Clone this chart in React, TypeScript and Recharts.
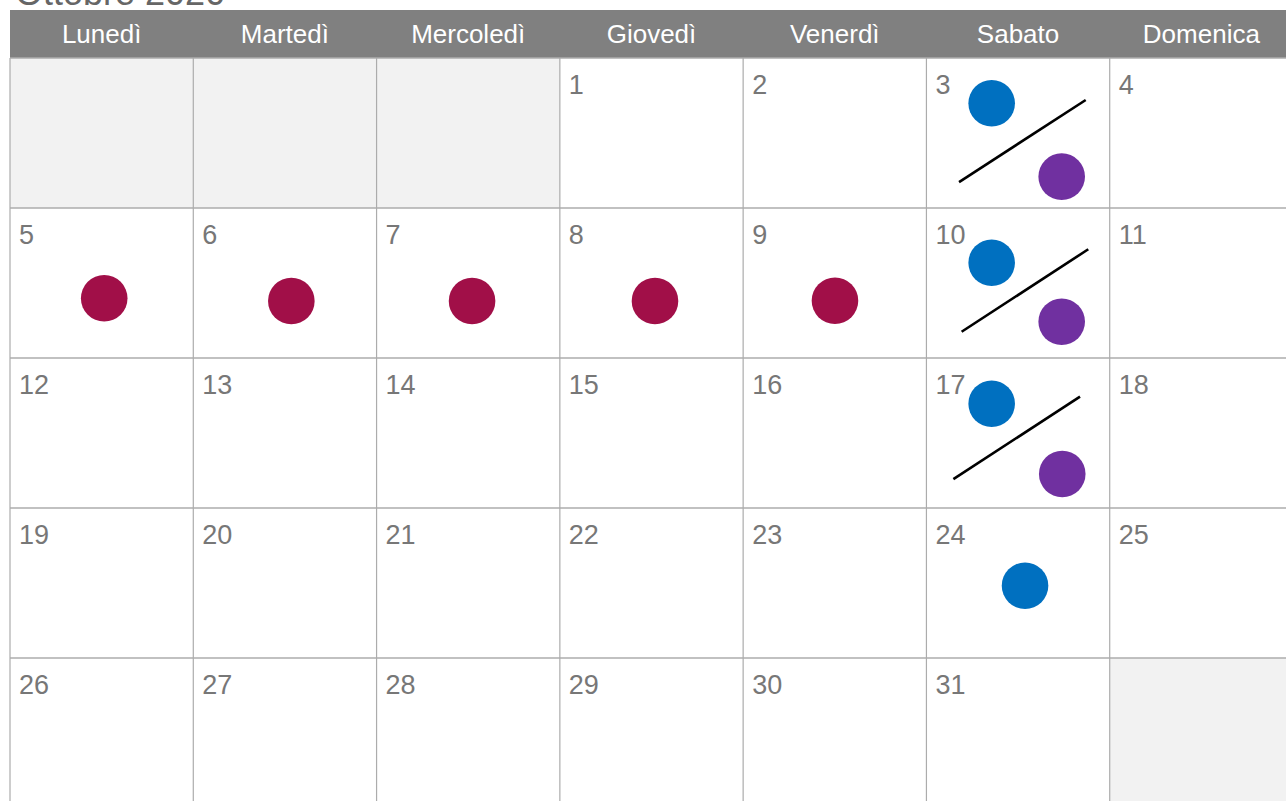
import React from 'react';
import {
  ScatterChart, Scatter, XAxis, YAxis,
  ReferenceArea, ReferenceLine,
} from 'recharts';

// Ottobre 2020 — calendario con eventi
const title = 'Ottobre 2020';
const weekdays = ['Lunedì', 'Martedì', 'Mercoledì', 'Giovedì', 'Venerdì', 'Sabato', 'Domenica'];
const firstWeekday = 3; // giovedì
const daysInMonth = 31;
const rows = [0, 1, 2, 3, 4, 5];
const cols = [0, 1, 2, 3, 4, 5, 6, 7];

// celle vuote (fuori mese)
const emptyCells = [
  { x1: 0, x2: 3, y1: 0, y2: 1 },
  { x1: 6, x2: 7, y1: 4, y2: 5 },
];

// eventi: colonna + frazione, riga + frazione
const redDots = [
  { x: 0.514, y: 1.602 },
  { x: 1.535, y: 1.62 },
  { x: 2.521, y: 1.62 },
  { x: 3.519, y: 1.62 },
  { x: 4.501, y: 1.618 },
];
const blueDots = [
  { x: 5.356, y: 0.302 },
  { x: 5.356, y: 1.365 },
  { x: 5.356, y: 2.305 },
  { x: 5.538, y: 3.518 },
];
const purpleDots = [
  { x: 5.738, y: 0.791 },
  { x: 5.738, y: 1.758 },
  { x: 5.741, y: 2.773 },
];
const slashes = [
  [{ x: 5.178, y: 0.827 }, { x: 5.869, y: 0.28 }],
  [{ x: 5.192, y: 1.825 }, { x: 5.883, y: 1.275 }],
  [{ x: 5.147, y: 2.807 }, { x: 5.838, y: 2.258 }],
];

const HEADER = 0.32;
const FONT = '"Liberation Sans", Arial, Helvetica, sans-serif';

const dayCells = Array.from({ length: daysInMonth }, (_, i) => {
  const idx = i + firstWeekday;
  return { x: idx % 7, y: Math.floor(idx / 7), day: i + 1 };
});
const headerCells = weekdays.map((name, i) => ({ x: i + 0.5, y: -HEADER / 2, name }));
const titleCell = [{ x: 0, y: -HEADER, name: title }];

const dot = (color: string) => (props: any) => (
  <circle cx={props.cx} cy={props.cy} r={23.3} fill={color} />
);

export default function App() {
  return (
    <div style={{ position: 'absolute', left: 0, top: 0, width: 1286, height: 801, overflow: 'hidden', background: '#fff' }}>
      <ScatterChart width={1300} height={820} margin={{ top: 10, left: 10, right: 7, bottom: 12 }}>
        <XAxis type="number" dataKey="x" domain={[0, 7]} hide />
        <YAxis type="number" dataKey="y" domain={[-HEADER, 5]} reversed hide />

        <ReferenceArea x1={0} x2={7} y1={-HEADER} y2={0} fill="#808080" fillOpacity={1} stroke="none" />
        {emptyCells.map((c, i) => (
          <ReferenceArea key={i} {...c} fill="#f2f2f2" fillOpacity={1} stroke="none" />
        ))}

        {rows.map((r) => (
          <ReferenceLine key={'h' + r} y={r} stroke="#acacac" strokeWidth={1.5} />
        ))}
        {cols.map((c) => (
          <ReferenceLine key={'v' + c} segment={[{ x: c, y: 0 }, { x: c, y: 5 }]} stroke="#acacac" strokeWidth={1.2} />
        ))}

        {slashes.map((s, i) => (
          <ReferenceLine key={'s' + i} segment={s} stroke="#000" strokeWidth={2.6} />
        ))}

        <Scatter
          data={titleCell}
          isAnimationActive={false}
          shape={(p: any) => (
            <text x={p.cx + 5} y={p.cy - 5} fontFamily={FONT} fontSize={36} fill="#666">
              {p.payload.name}
            </text>
          )}
        />
        <Scatter
          data={headerCells}
          isAnimationActive={false}
          shape={(p: any) => (
            <text x={p.cx} y={p.cy + 9} textAnchor="middle" fontFamily={FONT} fontSize={26} fill="#fff">
              {p.payload.name}
            </text>
          )}
        />
        <Scatter
          data={dayCells}
          isAnimationActive={false}
          shape={(p: any) => (
            <text x={p.cx + 9} y={p.cy + 36} fontFamily={FONT} fontSize={27} fill="#777">
              {p.payload.day}
            </text>
          )}
        />

        <Scatter data={redDots} isAnimationActive={false} shape={dot('#a10f48')} />
        <Scatter data={blueDots} isAnimationActive={false} shape={dot('#0070c0')} />
        <Scatter data={purpleDots} isAnimationActive={false} shape={dot('#7030a0')} />
      </ScatterChart>
    </div>
  );
}
